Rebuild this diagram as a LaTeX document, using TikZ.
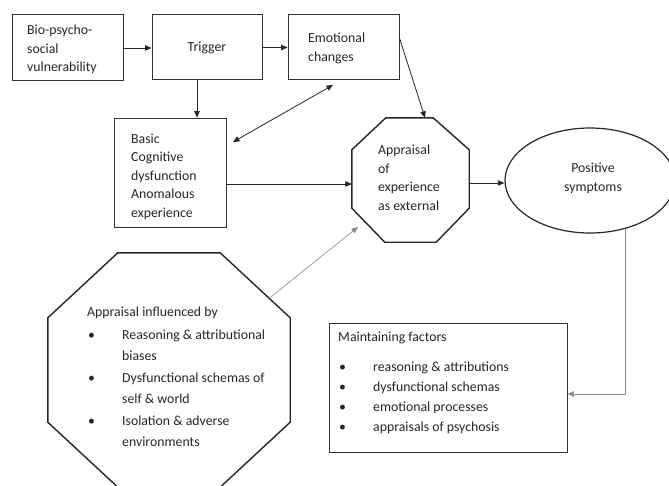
\documentclass[tikz,border=0pt]{standalone}
\usepackage{fontspec}
\setmainfont{Carlito}
\usetikzlibrary{arrows.meta,shapes.geometric,calc}
\begin{document}
\begin{tikzpicture}[x=1pt,y=-1pt,
  box/.style={draw=black!80, line width=0.9pt, inner sep=0pt},
  frame/.style={inner sep=0pt},
  txt/.style={inner sep=0pt, align=left, text=black!85, font=\fontsize{13.8}{18.5}\selectfont},
  ltxt/.style={txt, font=\fontsize{13.8}{21.5}\selectfont},
  mtxt/.style={txt, font=\fontsize{13.8}{20}\selectfont},
  octline/.style={draw=black!85, line width=1.4pt, line join=miter},
  arr/.style={draw=black!85, line width=0.8pt, -{Triangle[length=6.5pt,width=5.5pt]}},
  darr/.style={arr, {Triangle[length=6.5pt,width=5.5pt]}-{Triangle[length=6.5pt,width=5.5pt]}},
  garr/.style={arr, draw=black!45},
]
\useasboundingbox (0,0) rectangle (669,485);
\clip (0,0) rectangle (669,485);

% top row
\node[box, minimum width=111pt, minimum height=66pt] (bio) at (67.5,47) {};
\node[txt, anchor=west] (biot) at (27,49.5) {Bio-psycho-\\social\\vulnerability};
\node[box, minimum width=110pt, minimum height=65pt] (trig) at (207,46.5) {};
\node[txt] (trigt) at (207,48) {Trigger};
\node[box, minimum width=111pt, minimum height=65pt] (emo) at (343.5,46.5) {};
\node[txt, anchor=west] (emot) at (308,48.5) {Emotional\\changes};

% cognitive dysfunction
\node[box, minimum width=112pt, minimum height=109pt] (basic) at (170,172.5) {};
\node[txt, anchor=west] (basict) at (131,176.5) {Basic\\Cognitive\\dysfunction\\Anomalous\\experience};

% appraisal octagon
\node[frame, minimum width=117pt, minimum height=124pt] (appr) at (410.5,180) {};
\coordinate (a1) at ($(appr.north west)+(34,0)$);
\coordinate (a2) at ($(appr.north east)+(-36,0)$);
\coordinate (a3) at ($(appr.north east)+(0,32)$);
\coordinate (a4) at ($(appr.south east)+(0,-34)$);
\coordinate (a5) at ($(appr.south east)+(-33,0)$);
\coordinate (a6) at ($(appr.south west)+(33,0)$);
\coordinate (a7) at ($(appr.south west)+(0,-34)$);
\coordinate (a8) at ($(appr.north west)+(0,32)$);
\draw[octline] (a1) -- (a2) -- (a3) -- (a4) -- (a5) -- (a6) -- (a7) -- (a8) -- cycle;
\node[txt, anchor=west] (apprt) at (378,178) {Appraisal\\of\\experience\\as external};

% positive symptoms
\node[ellipse, draw=black!85, line width=1.2pt, minimum width=170pt, minimum height=105pt, inner sep=0pt] (pos) at (590,180.5) {};
\node[txt, align=center] (post) at (593,178.5) {Positive\\symptoms};

% influences octagon
\node[frame, minimum width=242pt, minimum height=234pt] (infl) at (169,370) {};
\coordinate (i1) at ($(infl.north west)+(70,0)$);
\coordinate (i2) at ($(infl.north east)+(-70,0)$);
\coordinate (i3) at ($(infl.north east)+(0,65)$);
\coordinate (i4) at ($(infl.south east)+(0,-65)$);
\coordinate (i5) at ($(infl.south east)+(-70,0)$);
\coordinate (i6) at ($(infl.south west)+(70,0)$);
\coordinate (i7) at ($(infl.south west)+(0,-65)$);
\coordinate (i8) at ($(infl.north west)+(0,65)$);
\draw[octline] (i1) -- (i2) -- (i3) -- (i4) -- (i5) -- (i6) -- (i7) -- (i8) -- cycle;
\node[ltxt, anchor=west] (inflt) at (87,377) {Appraisal influenced by\\[1pt]
  \makebox[35pt][l]{\hspace{1pt}\textbullet}Reasoning \& attributional\\
  \hspace*{35pt}biases\\
  \makebox[35pt][l]{\hspace{1pt}\textbullet}Dysfunctional schemas of\\
  \hspace*{35pt}self \& world\\
  \makebox[35pt][l]{\hspace{1pt}\textbullet}Isolation \& adverse\\
  \hspace*{35pt}environments};

% maintaining factors
\node[box, minimum width=238pt, minimum height=129pt] (maint) at (448,387.5) {};
\node[mtxt, anchor=west] (maintt) at (338,383) {Maintaining factors\\[10pt]
  \makebox[35pt][l]{\hspace{1pt}\textbullet}reasoning \& attributions\\
  \makebox[35pt][l]{\hspace{1pt}\textbullet}dysfunctional schemas\\
  \makebox[35pt][l]{\hspace{1pt}\textbullet}emotional processes\\
  \makebox[35pt][l]{\hspace{1pt}\textbullet}appraisals of psychosis};

% free ends of connectors
\coordinate (dA) at (233,142);
\coordinate (dB) at (333,85);
\coordinate (tipA) at (358,227);

% connectors
\draw[arr] ([yshift=-1pt]bio.east) -- ([yshift=-1pt]bio.east -| trig.west);
\draw[arr] ([yshift=-1pt]trig.east) -- ([yshift=-1pt]trig.east -| emo.west);
\draw[arr] ([xshift=-10pt]trig.south) -- ([xshift=-10pt]trig.south |- basic.north);
\draw[darr] (dA) -- (dB);
\draw[arr] ([yshift=8.5pt]emo.east) -- ([xshift=14.5pt]appr.north);
\draw[arr] ([yshift=-4pt]appr.west -| basic.east) -- ([yshift=-4pt]appr.west);
\draw[arr] ([yshift=-3pt]appr.east) -- ([yshift=-3pt]appr.east -| pos.west);
\draw[garr, line width=0.6pt] ($(i2)!0.7!(i3)$) -- (tipA);
\draw[garr, line width=0.7pt] (pos.-54.7) |- ([yshift=-6.5pt]maint.east);
\end{tikzpicture}
\end{document}
